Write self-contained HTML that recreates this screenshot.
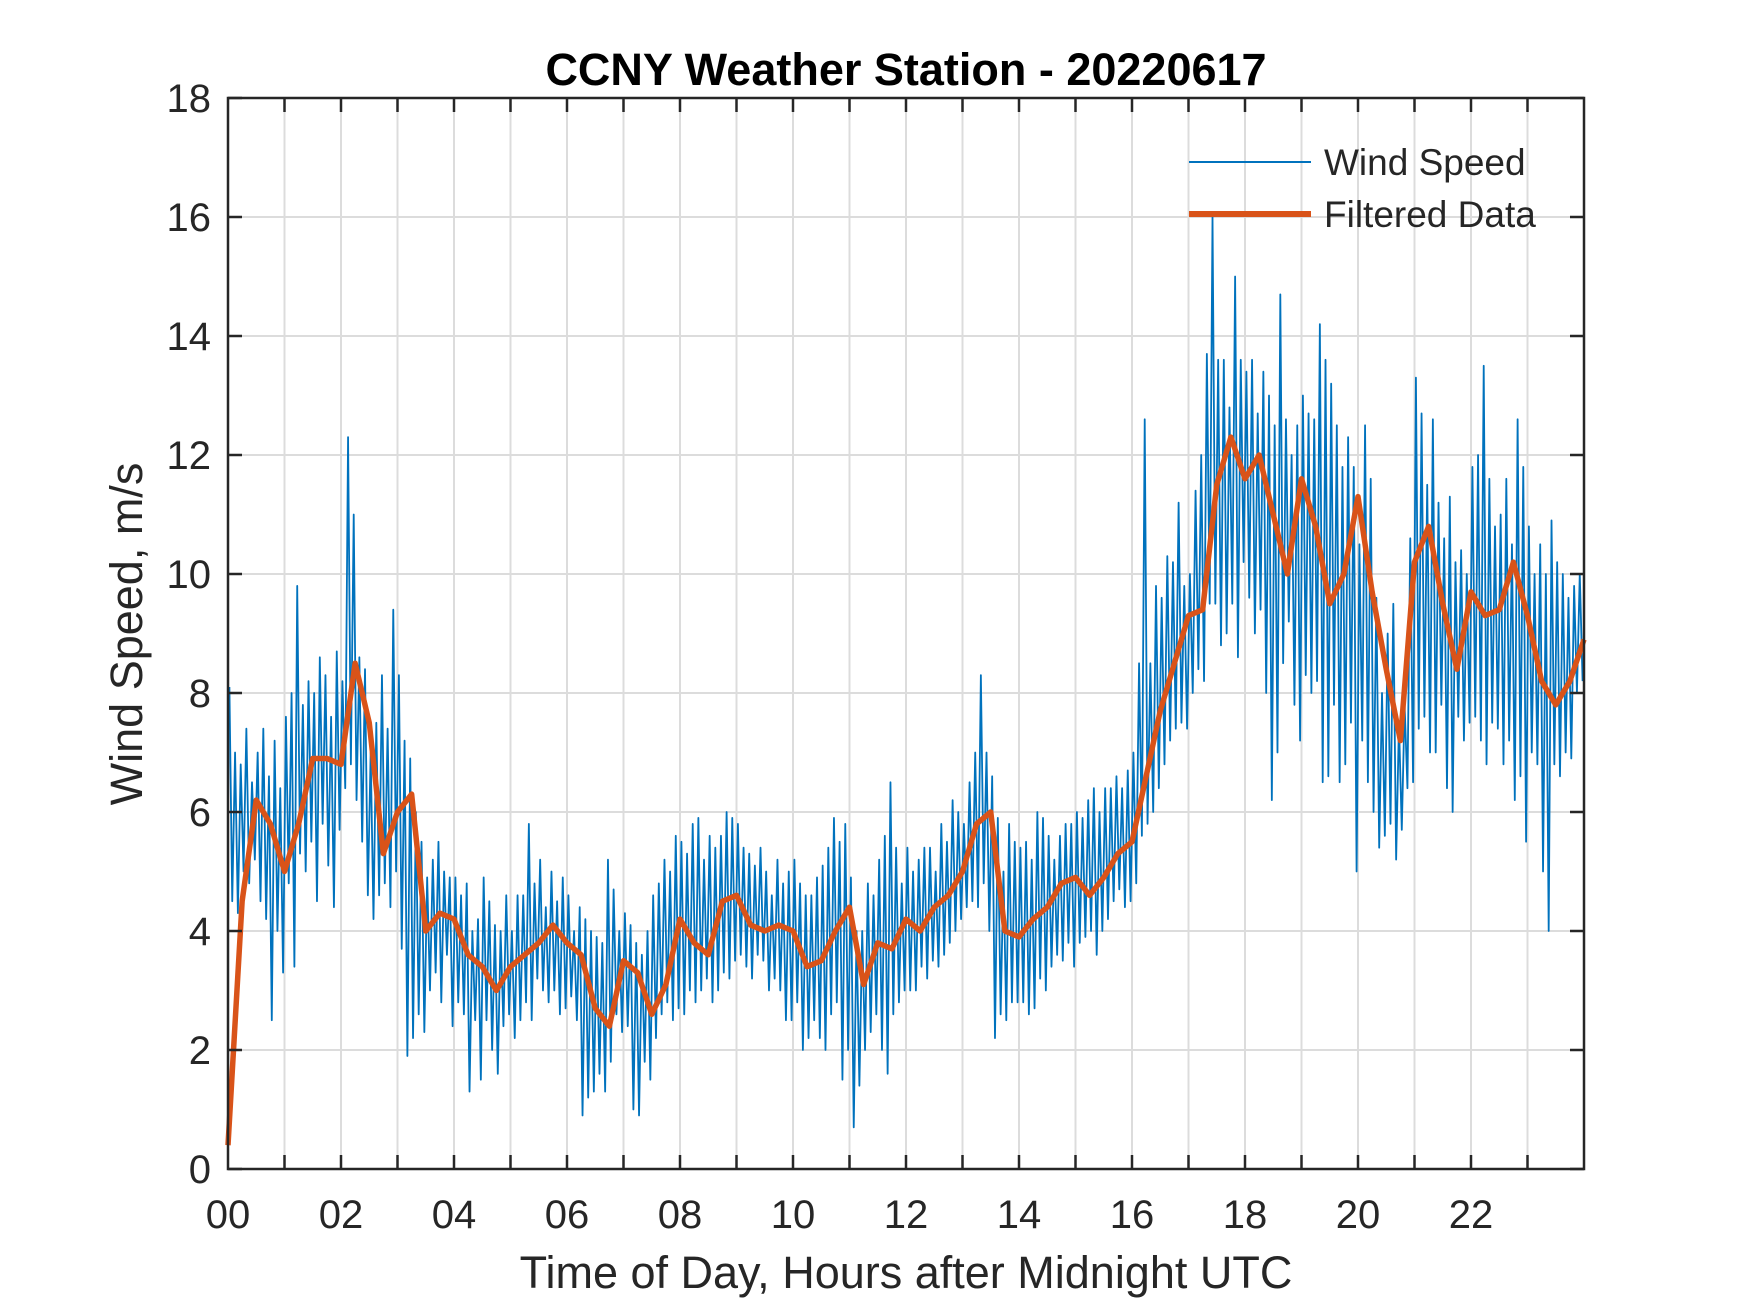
<!DOCTYPE html>
<html><head><meta charset="utf-8"><style>
html,body{margin:0;padding:0;background:#fff}
svg{display:block}
text{font-family:"Liberation Sans",Arial,sans-serif;fill:#262626}
</style></head><body>
<svg id="chart" width="1750" height="1313" viewBox="0 0 1750 1313" xmlns="http://www.w3.org/2000/svg">
<rect width="1750" height="1313" fill="#fff"/>
<g id="grid"></g>
<g id="series"></g>
<g id="axes"></g>
<text x="906" y="85" text-anchor="middle" font-size="45" font-weight="bold" style="fill:#000">CCNY Weather Station - 20220617</text>
<text x="906" y="1288" text-anchor="middle" font-size="45">Time of Day, Hours after Midnight UTC</text>
<text transform="translate(142,634) rotate(-90)" text-anchor="middle" font-size="45">Wind Speed, m/s</text>
<g>
<line x1="1189" y1="162" x2="1311" y2="162" stroke="#0072bd" stroke-width="2"/>
<text x="1324" y="175" font-size="37">Wind Speed</text>
<line x1="1189" y1="214" x2="1311" y2="214" stroke="#d95319" stroke-width="6"/>
<text x="1324" y="227" font-size="37">Filtered Data</text>
</g>
</svg>
<script>
const xTickLabels=["00","02","04","06","08","10","12","14","16","18","20","22"];
const yTickValues=[0,2,4,6,8,10,12,14,16,18];
const windMax=[
8.1,7.0,6.8,7.4,6.5,7.0,7.4,6.6,7.2,6.4,
7.6,8.0,9.8,7.8,8.2,8.0,8.6,8.3,7.6,8.7,
8.2,12.3,11.0,8.6,8.4,7.0,7.5,8.3,7.4,9.4,
8.3,7.2,6.9,6.0,5.5,4.9,5.2,5.5,5.0,4.9,
4.9,4.6,4.8,4.0,4.2,4.9,4.5,4.1,4.0,4.6,
4.0,4.6,4.6,5.8,4.8,5.2,4.4,5.0,4.5,4.9,
4.6,4.0,4.4,4.2,4.0,3.9,3.8,5.2,4.7,4.0,
4.3,4.1,3.8,3.6,4.0,4.6,4.8,5.2,5.0,5.6,
5.5,5.3,5.8,5.9,5.2,5.6,5.4,5.6,6.0,5.9,
5.8,5.4,5.3,5.1,5.4,5.0,4.6,5.2,4.8,5.0,
5.2,4.8,4.6,4.6,4.9,5.1,5.4,5.9,5.5,5.8,
4.9,4.0,4.0,4.8,4.6,5.2,5.6,6.5,5.4,4.8,
5.4,5.0,5.2,5.4,5.4,5.0,5.8,5.5,6.2,6.0,
5.8,6.5,7.0,8.3,7.0,6.6,5.9,5.0,5.8,5.5,
5.4,5.5,5.2,6.0,5.9,5.6,5.2,5.6,5.8,5.8,
6.0,5.9,6.2,6.4,6.0,6.4,6.4,6.6,6.4,6.7,
7.0,8.5,12.6,8.5,9.8,9.6,10.3,10.2,11.2,9.8,
10.0,11.4,12.0,13.7,16.0,13.6,13.6,12.8,15.0,13.6,
13.4,13.6,12.7,13.4,13.0,12.5,14.7,12.6,12.0,12.5,
13.0,12.7,12.6,14.2,13.6,13.2,12.5,11.8,12.3,11.8,
10.5,12.5,11.6,9.6,8.0,9.0,9.5,7.5,7.8,10.6,
13.3,12.7,11.5,12.6,11.2,10.6,11.3,10.2,10.4,10.0,
11.8,12.0,13.5,11.6,10.8,11.0,11.6,10.5,12.6,11.8,
10.8,10.0,10.5,10.0,10.9,10.2,10.0,9.6,9.8,10.0];
const windMin=[
4.5,4.3,5.0,4.8,5.2,4.5,4.2,2.5,4.0,3.3,
4.8,3.4,5.3,5.0,5.5,4.5,5.8,5.1,4.4,5.7,
6.4,6.8,6.2,5.5,4.6,4.2,4.6,4.8,4.4,5.0,
3.7,1.9,2.2,2.6,2.3,3.0,3.3,2.8,3.6,2.4,
2.8,2.6,1.3,2.5,1.5,2.5,2.0,1.6,2.4,2.6,
2.2,2.5,2.8,2.5,3.2,3.0,2.8,3.0,2.6,2.7,
2.9,2.5,0.9,1.2,1.3,1.6,1.3,1.8,2.6,2.3,
2.4,1.0,0.9,1.8,1.5,2.2,2.6,2.8,2.5,2.7,
2.6,3.0,2.8,3.0,3.2,2.8,3.0,3.3,3.2,3.5,
3.6,3.4,3.2,3.6,3.5,3.0,3.2,3.0,2.5,2.5,
2.8,2.0,2.2,2.5,2.2,2.0,2.6,2.8,1.5,2.0,
0.7,1.4,2.0,2.3,2.6,2.0,1.6,2.6,2.8,3.0,
3.0,3.0,3.4,3.2,3.5,3.4,3.6,3.8,4.0,4.2,
4.4,4.5,4.4,4.8,4.0,2.2,2.6,2.5,2.8,2.8,
2.8,2.6,2.7,3.2,3.0,3.4,3.6,3.5,3.8,3.4,
3.8,3.9,4.0,3.6,4.0,4.2,4.5,4.7,4.4,4.5,
4.8,5.6,5.8,6.0,6.4,6.8,7.2,7.4,7.5,7.4,
8.0,8.4,8.2,9.5,9.5,8.8,9.0,9.5,8.6,10.2,
9.6,9.0,9.4,8.0,6.2,7.0,8.5,9.2,7.8,7.2,
8.3,8.0,8.2,6.5,6.6,7.8,6.5,6.8,7.5,5.0,
7.2,6.5,6.0,5.4,5.6,5.8,5.2,5.7,6.4,6.5,
7.4,7.6,7.0,7.0,7.8,6.4,6.0,7.6,7.2,7.5,
7.6,7.2,6.8,7.5,7.4,6.8,7.2,6.2,6.6,5.5,
7.0,6.8,5.0,4.0,6.8,6.6,7.0,6.9,8.0,8.2];
const filtered=[0.4,4.5,6.2,5.8,5.0,5.8,6.9,6.9,6.8,8.5,7.5,5.3,6.0,6.3,4.0,4.3,
4.2,3.6,3.4,3.0,3.4,3.6,3.8,4.1,3.8,3.6,2.7,2.4,3.5,3.3,2.6,3.1,
4.2,3.8,3.6,4.5,4.6,4.1,4.0,4.1,4.0,3.4,3.5,4.0,4.4,3.1,3.8,3.7,
4.2,4.0,4.4,4.6,5.0,5.8,6.0,4.0,3.9,4.2,4.4,4.8,4.9,4.6,4.9,5.3,
5.5,6.6,7.7,8.5,9.3,9.4,11.5,12.3,11.6,12.0,11.0,10.0,11.6,10.8,9.5,10.0,
11.3,9.7,8.4,7.2,10.2,10.8,9.5,8.4,9.7,9.3,9.4,10.2,9.3,8.2,7.8,8.2,8.9];
const X0=228,X1=1584,Y0=1169,Y1=98,XMAX=24,YMAX=18;
const xs=h=>X0+(X1-X0)*h/XMAX;
const ys=v=>Y0-(Y0-Y1)*v/YMAX;
const NS="http://www.w3.org/2000/svg";
function mk(tag,parent,attrs){const e=document.createElementNS(NS,tag);for(const k in attrs)e.setAttribute(k,attrs[k]);parent.appendChild(e);return e;}
const grid=document.getElementById('grid'),axes=document.getElementById('axes'),series=document.getElementById('series');
for(let h=1;h<XMAX;h++){const l=mk('line',grid,{x1:xs(h),x2:xs(h),y1:Y1,y2:Y0,stroke:'#dcdcdc','stroke-width':2});

}
yTickValues.forEach(v=>{if(v>0&&v<YMAX){const l=mk('line',grid,{x1:X0,x2:X1,y1:ys(v),y2:ys(v),stroke:'#dcdcdc','stroke-width':2});

}});
let pts=[];for(let i=0;i<windMax.length;i++){const t=i*0.1;pts.push(xs(t+0.025)+','+ys(windMax[i]));pts.push(xs(t+0.075)+','+ys(windMin[i]));}
const w=mk('polyline',series,{points:pts.join(' '),fill:'none',stroke:'#0072bd','stroke-width':1.8,'stroke-linejoin':'round'});


const fp=filtered.map((v,i)=>xs(i*0.25)+','+ys(v)).join(' ');
const f=mk('polyline',series,{points:fp,fill:'none',stroke:'#d95319','stroke-width':5.5,'stroke-linejoin':'round'});


const b=mk('rect',axes,{x:X0,y:Y1,width:X1-X0,height:Y0-Y1,fill:'none',stroke:'#262626','stroke-width':2.5});


for(let h=1;h<XMAX;h++){mk('line',axes,{x1:xs(h),x2:xs(h),y1:Y0,y2:Y0-14,stroke:'#262626','stroke-width':2.5});mk('line',axes,{x1:xs(h),x2:xs(h),y1:Y1,y2:Y1+14,stroke:'#262626','stroke-width':2.5});}
xTickLabels.forEach((s,i)=>{const t=mk('text',axes,{x:xs(i*2),y:1228,'text-anchor':'middle','font-size':40});t.textContent=s;

});
yTickValues.forEach(v=>{mk('line',axes,{x1:X0,x2:X0+14,y1:ys(v),y2:ys(v),stroke:'#262626','stroke-width':2.5});mk('line',axes,{x1:X1,x2:X1-14,y1:ys(v),y2:ys(v),stroke:'#262626','stroke-width':2.5});
const t=mk('text',axes,{x:211,y:ys(v)+14,'text-anchor':'end','font-size':40});t.textContent=v;

});
</script>
</body></html>
